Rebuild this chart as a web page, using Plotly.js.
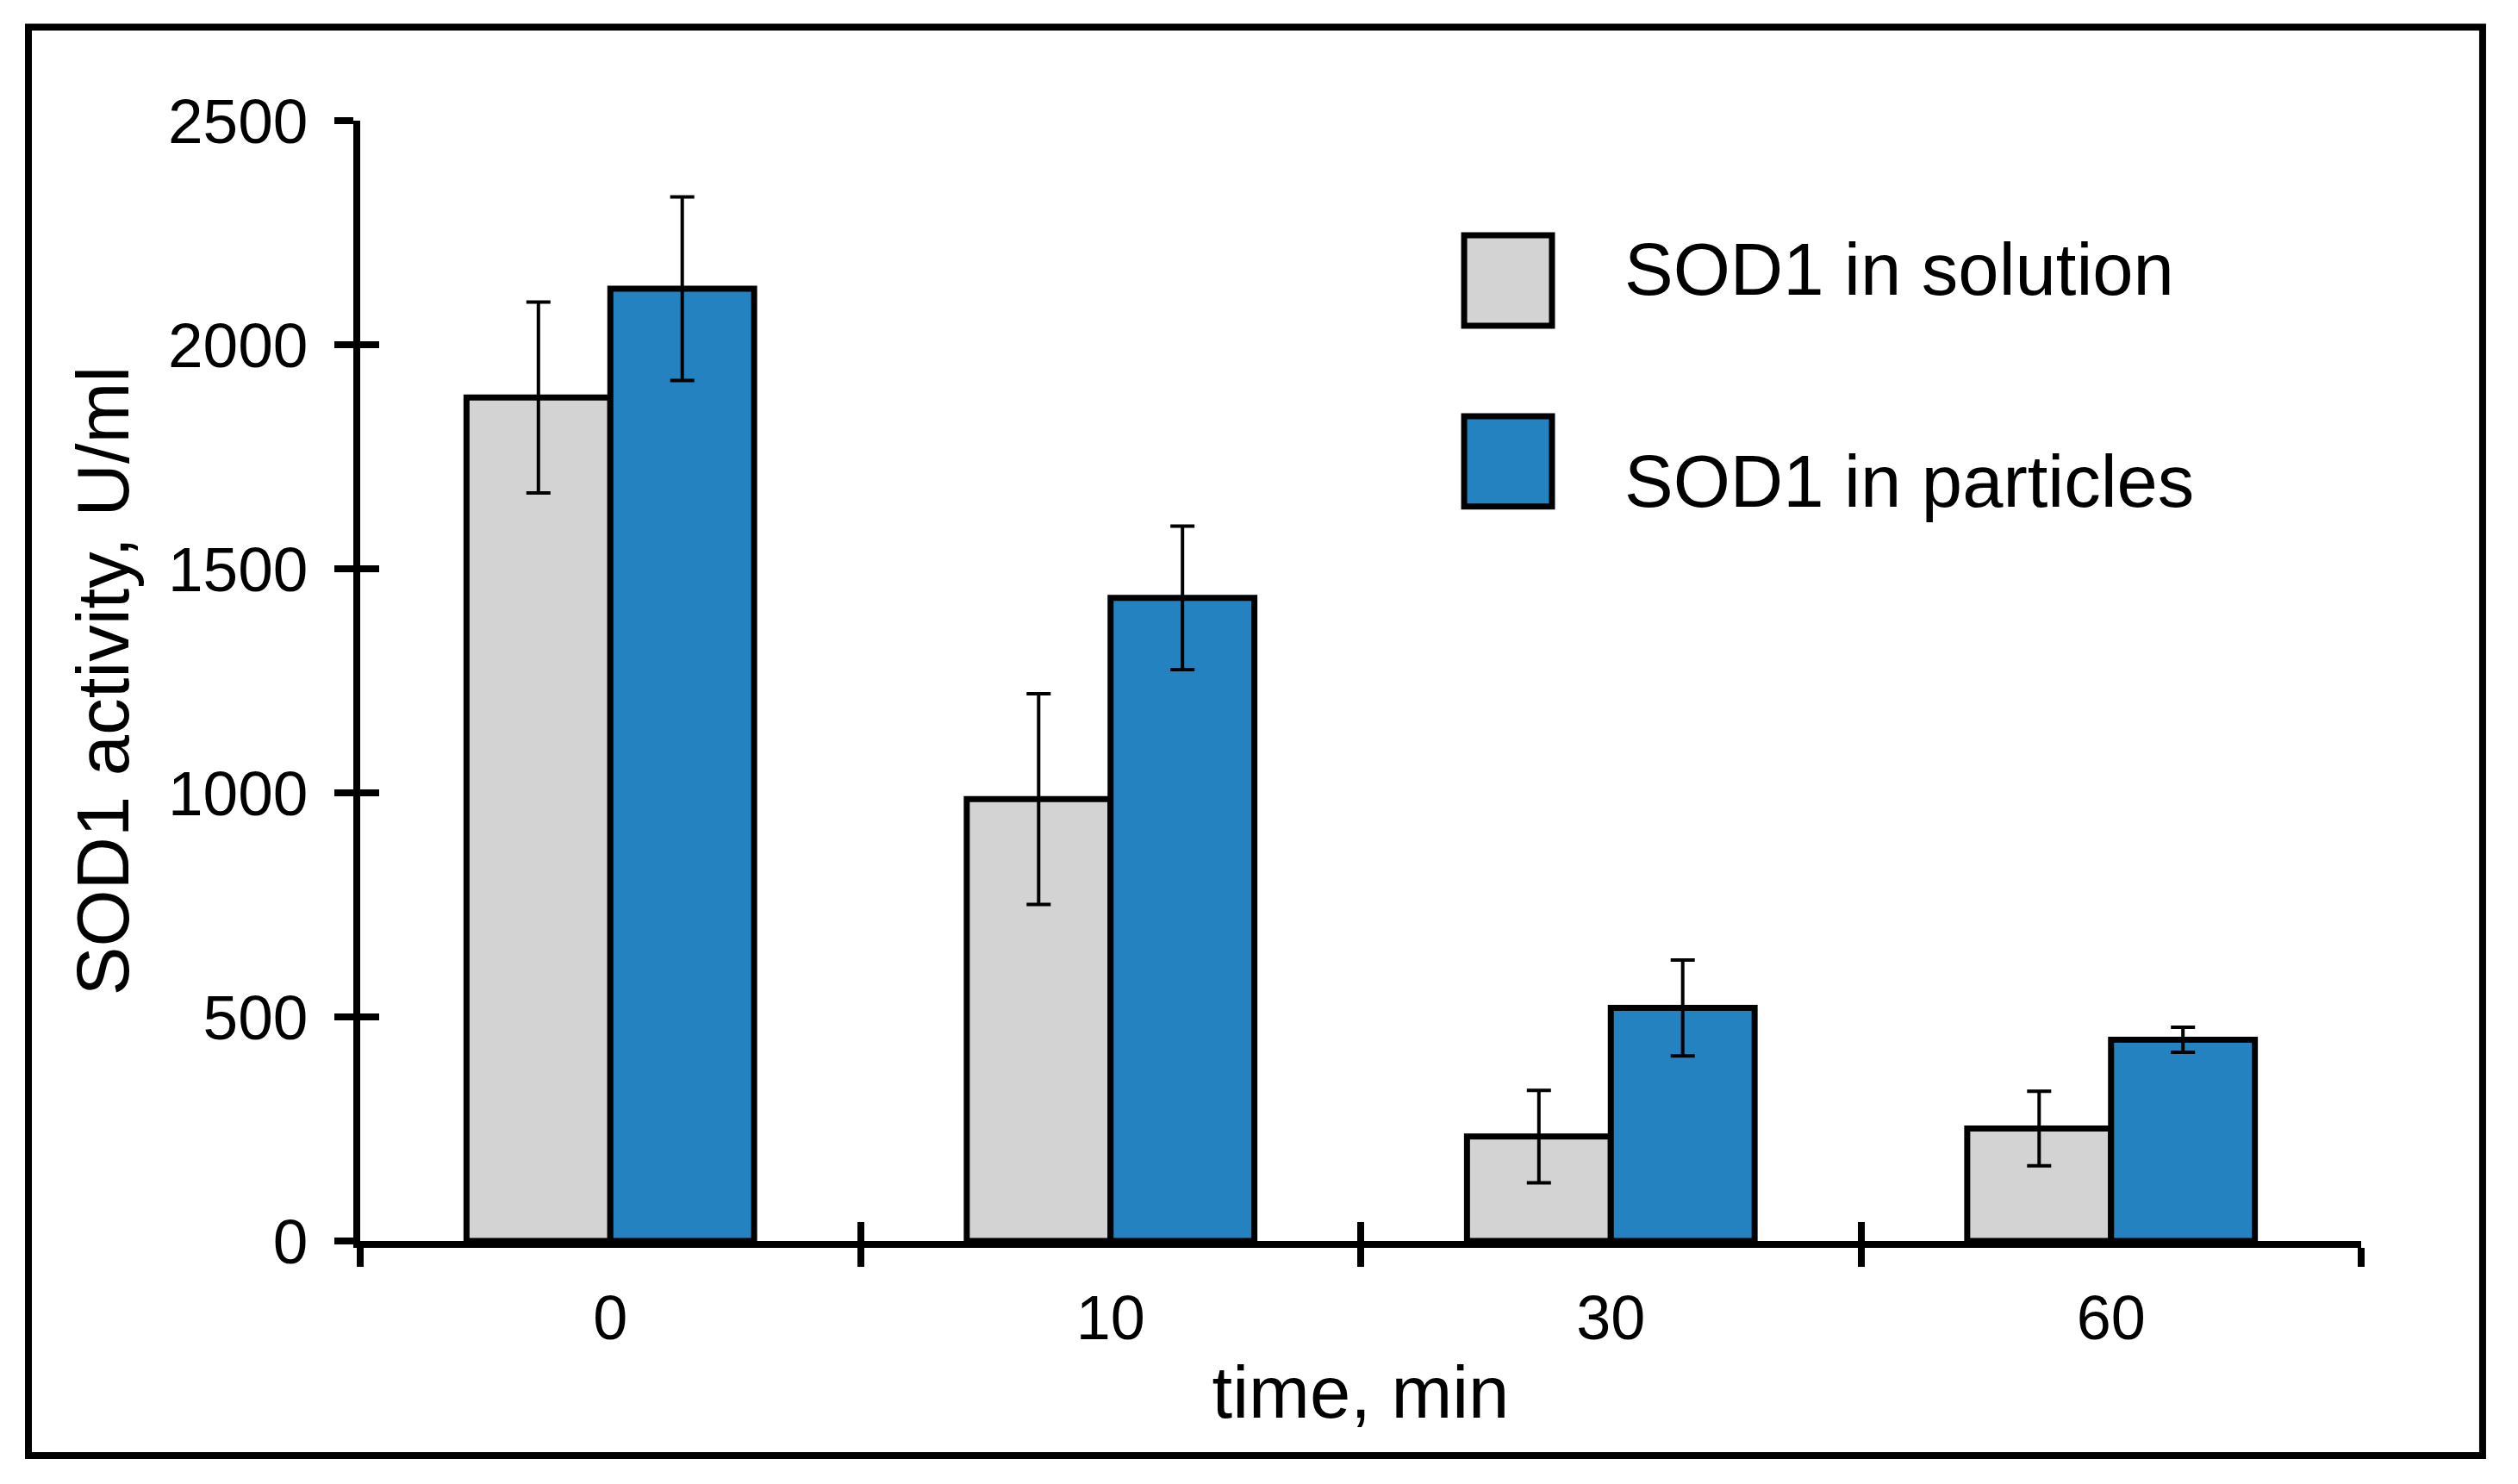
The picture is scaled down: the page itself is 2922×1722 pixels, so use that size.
<!DOCTYPE html>
<html>
<head>
<meta charset="utf-8">
<script src="https://cdn.plot.ly/plotly-3.0.1.min.js"></script>
<style>
  html, body { margin: 0; padding: 0; background: #fff; }
  #vizplot { width: 2922px; height: 1722px; }
</style>
</head>
<body>
<div id="vizplot"></div>
<script>
// values
const timeLabels = ['0', '10', '30', '60'];
const seriesNames = ['SOD1 in solution', 'SOD1 in particles'];
const solutionValues = [1882, 986, 233, 251];
const solutionErrors = [213, 235, 103, 83];
const particleValues = [2125, 1435, 520, 449];
const particleErrors = [205, 160, 107, 28];
const yTicks = [0, 500, 1000, 1500, 2000, 2500];

const FONT = 'Liberation Sans, Arial, sans-serif';
const GRAY = '#d3d3d3';
const BLUE = '#2582c1';

const barTrace = (name, values, errors, color) => ({
    type: 'bar',
    name: name,
    x: timeLabels,
    y: values,
    marker: { color: color, line: { color: '#000', width: 7 } },
    error_y: { type: 'data', array: errors, visible: true, color: '#000', thickness: 4, width: 14 },
    hoverinfo: 'x+y',
});

const data = [
    barTrace(seriesNames[0], solutionValues, solutionErrors, GRAY),
    barTrace(seriesNames[1], particleValues, particleErrors, BLUE),
    // empty trace so the overlay axes (inner half of the ticks) get drawn
    { type: 'scatter', x: [], y: [], xaxis: 'x2', yaxis: 'y2', hoverinfo: 'skip', showlegend: false },
];

// boundaries between the time groups, used for the inner half of the ticks
const boundaries = [-0.5].concat(timeLabels.map((t, i) => i + 0.5));

const tickStyle = { ticklen: 22, tickwidth: 8, tickcolor: '#000' };

const layout = {
    width: 2922,
    height: 1722,
    margin: { l: 418, r: 182, t: 140, b: 282, pad: 0 },
    paper_bgcolor: '#fff',
    plot_bgcolor: '#fff',
    showlegend: false,
    barmode: 'group',
    bargap: 0.425,
    bargroupgap: 0,
    font: { family: FONT, color: '#000' },
    xaxis: Object.assign({
        type: 'category',
        categoryorder: 'array',
        categoryarray: timeLabels,
        range: [-0.5, timeLabels.length - 0.5],
        showline: true, linewidth: 8, linecolor: '#000',
        ticks: 'outside', tickson: 'boundaries',
        showgrid: false, zeroline: false,
        tickfont: { family: FONT, size: 72, color: '#000' },
        ticklabelstandoff: 20,
        title: { text: 'time, min', font: { family: FONT, size: 85, color: '#000' }, standoff: 20 },
        fixedrange: true,
    }, tickStyle),
    yaxis: Object.assign({
        range: [0, 2500],
        tickvals: yTicks,
        showline: true, linewidth: 8, linecolor: '#000',
        ticks: 'outside',
        showgrid: false, zeroline: false,
        tickfont: { family: FONT, size: 73, color: '#000' },
        ticklabelstandoff: 16,
        title: { text: 'SOD1 activity, U/ml', font: { family: FONT, size: 85, color: '#000' }, standoff: 20 },
        fixedrange: true,
    }, tickStyle),
    xaxis2: Object.assign({
        overlaying: 'x', anchor: 'y2', side: 'bottom',
        range: [-0.5, timeLabels.length - 0.5],
        tickvals: boundaries,
        ticks: 'inside', showticklabels: false,
        showline: false, showgrid: false, zeroline: false,
        fixedrange: true,
    }, tickStyle),
    yaxis2: Object.assign({
        overlaying: 'y', anchor: 'x2', side: 'left',
        range: [0, 2500],
        tickvals: yTicks,
        ticks: 'inside', showticklabels: false,
        showline: false, showgrid: false, zeroline: false,
        fixedrange: true,
    }, tickStyle),
    shapes: [
        // outer frame
        { type: 'rect', xref: 'paper', yref: 'paper', x0: -0.1658, x1: 1.0607, y0: -0.1915, y1: 1.0834,
          line: { color: '#000', width: 8 }, fillcolor: 'rgba(0,0,0,0)' },
        // legend swatches
        { type: 'rect', xref: 'paper', yref: 'paper', x0: 0.5517, x1: 0.5956, y0: 0.8170, y1: 0.8977,
          line: { color: '#000', width: 7 }, fillcolor: GRAY },
        { type: 'rect', xref: 'paper', yref: 'paper', x0: 0.5517, x1: 0.5956, y0: 0.6555, y1: 0.7362,
          line: { color: '#000', width: 7 }, fillcolor: BLUE },
    ],
    annotations: [
        { xref: 'paper', yref: 'paper', x: 0.6309, y: 0.8670, xanchor: 'left', yanchor: 'middle',
          text: seriesNames[0], showarrow: false, font: { family: FONT, size: 85, color: '#000' } },
        { xref: 'paper', yref: 'paper', x: 0.6309, y: 0.6782, xanchor: 'left', yanchor: 'middle',
          text: seriesNames[1], showarrow: false, font: { family: FONT, size: 85, color: '#000' } },
    ],
};

const config = { displayModeBar: false, staticPlot: true };

Plotly.newPlot('vizplot', data, layout, config);
</script>
</body>
</html>
